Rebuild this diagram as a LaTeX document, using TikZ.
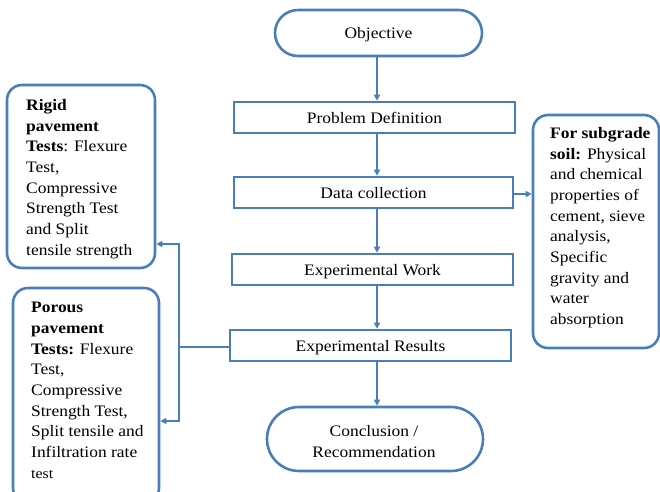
\documentclass[tikz,border=0pt]{standalone}
\usepackage{fontspec}
\setmainfont{Liberation Serif}[FakeStretch=1.09]
\usetikzlibrary{arrows.meta}
\definecolor{lineblue}{RGB}{74,126,187}
\begin{document}
\begin{tikzpicture}[x=1pt,y=-1pt,
  every node/.style={font=\fontsize{16}{20.7}\selectfont},
  flowbox/.style={draw=lineblue,line width=2.6pt,rectangle,inner sep=0pt,text height=11pt,text depth=0pt},
  sidebox/.style={draw=lineblue,line width=2.6pt,rounded corners=15pt,rectangle,inner sep=0pt},
  sidetext/.style={anchor=north west,inner sep=0pt,align=left},
  conn/.style={draw=lineblue,line width=2.6pt},
  arr/.style={conn,-{Triangle[length=6pt,width=6pt]}}]
\useasboundingbox (0,0) rectangle (660,491);
\begin{scope}
\clip (0,0) rectangle (660,491);
% main column
\node[flowbox,rounded corners=23pt,minimum width=207pt,minimum height=46pt] (obj) at (378.5,33) {Objective};
\node[flowbox,minimum width=281pt,minimum height=31pt] (pd) at (374.5,117.5) {Problem Definition};
\node[flowbox,minimum width=279pt,minimum height=31pt] (dc) at (373.5,192.5) {Data collection};
\node[flowbox,minimum width=281pt,minimum height=31pt] (ew) at (372.5,269.5) {Experimental Work};
\node[flowbox,minimum width=281pt,minimum height=31pt] (er) at (370.5,345.5) {Experimental Results};
\node[draw=lineblue,line width=2.6pt,rounded corners=32pt,minimum width=216pt,minimum height=64pt,inner sep=0pt] (con) at (375,439) {};
\node[anchor=north,inner sep=0pt,align=center] (context) at (374,425) {Conclusion /\\Recommendation};
% side boxes
\node[sidebox,minimum width=148pt,minimum height=183pt] (rigid) at (81,176.5) {};
\node[sidebox,minimum width=146pt,minimum height=215pt] (porous) at (86,395.5) {};
\node[sidebox,minimum width=126pt,minimum height=233pt] (soil) at (596,231.5) {};
\node[sidetext] (rigidtext) at (26,99) {\textbf{Rigid}\\\textbf{pavement}\\\textbf{Tests}: Flexure\\Test,\\Compressive\\Strength Test\\and Split\\tensile strength};
\node[sidetext] (poroustext) at (31,302) {\textbf{Porous}\\\textbf{pavement}\\\textbf{Tests:} Flexure\\Test,\\Compressive\\Strength Test,\\Split tensile and\\Infiltration rate\\{\fontsize{14.5}{20.7}\selectfont test}};
\node[sidetext] (soiltext) at (550,127) {\textbf{For subgrade}\\\textbf{soil:} Physical\\and chemical\\properties of\\cement, sieve\\analysis,\\Specific\\gravity and\\water\\absorption};
% connectors
\coordinate (col) at (377,0);
\draw[arr] (obj.south -| col) -- (pd.north -| col);
\draw[arr] (pd.south -| col) -- (dc.north -| col);
\draw[arr] (dc.south -| col) -- (ew.north -| col);
\draw[arr] (ew.south -| col) -- (er.north -| col);
\draw[arr] (er.south -| col) -- (con.north -| col);
\draw[arr] (dc.east |- 0,194) -- (soil.west |- 0,194);
\coordinate (j) at (179,347);
\coordinate (j1) at (179,244);
\coordinate (j2) at (179,421);
\draw[conn] (er.west |- j) -- (j);
\draw[arr] (j) -- (j1) -- (j1 -| rigid.east);
\draw[arr] (j) -- (j2) -- (j2 -| porous.east);
\end{scope}
\end{tikzpicture}
\end{document}
